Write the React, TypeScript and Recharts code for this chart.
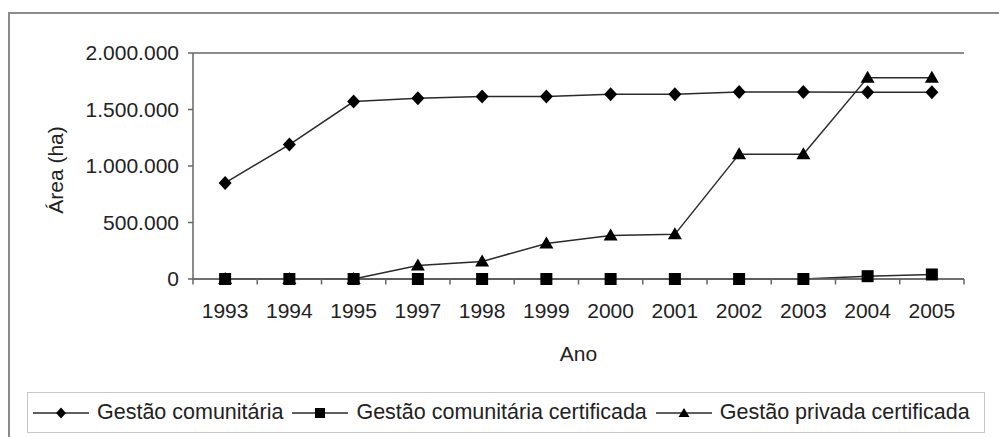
import React from 'react';
import { LineChart, Line, XAxis, YAxis, CartesianGrid, Legend } from 'recharts';

const years = ['1993', '1994', '1995', '1997', '1998', '1999', '2000', '2001', '2002', '2003', '2004', '2005'];
const gestaoComunitaria = [850000, 1190000, 1570000, 1600000, 1615000, 1615000, 1635000, 1635000, 1655000, 1655000, 1652000, 1652000];
const gestaoComunitariaCertificada = [0, 0, 0, 0, 0, 0, 0, 0, 0, 0, 25000, 40000];
const gestaoPrivadaCertificada = [0, 0, 0, 120000, 155000, 315000, 385000, 395000, 1105000, 1105000, 1782000, 1782000];
const yTicks = [0, 500000, 1000000, 1500000, 2000000];

const seriesNames = ['Gestão comunitária', 'Gestão comunitária certificada', 'Gestão privada certificada'];

const data = years.map((y, i) => ({
  ano: y,
  com: gestaoComunitaria[i],
  comCert: gestaoComunitariaCertificada[i],
  priv: gestaoPrivadaCertificada[i],
}));

const FONT = '"Liberation Sans", Arial, sans-serif';
const TEXT = '#222';
const LINE = '#2a2a2a';
const AXIS = '#666';

const CHART_W = 999;
const CHART_H = 437;
const MARGIN = { top: 53, right: 35, left: 0, bottom: 68 };
const YAXIS_W = 193;
const BAND = (CHART_W - MARGIN.left - MARGIN.right - YAXIS_W) / years.length;

const fmt = (v: number) => String(v).replace(/\B(?=(\d{3})+(?!\d))/g, '.');

const Diamond = (p: any) => {
  const { cx, cy } = p;
  if (cx == null || cy == null) return null;
  return <path key={p.key} d={`M${cx},${cy - 7} L${cx + 6.5},${cy} L${cx},${cy + 7} L${cx - 6.5},${cy} Z`} fill="#000" />;
};
const Square = (p: any) => {
  const { cx, cy } = p;
  if (cx == null || cy == null) return null;
  return <rect key={p.key} x={cx - 6} y={cy - 6} width={12} height={12} fill="#000" />;
};
const Triangle = (p: any) => {
  const { cx, cy } = p;
  if (cx == null || cy == null) return null;
  return <path key={p.key} d={`M${cx},${cy - 7} L${cx + 7},${cy + 5} L${cx - 7},${cy + 5} Z`} fill="#000" />;
};

const XTick = (props: any) => {
  const x = Number(props.x);
  const y = Number(props.y);
  const payload = props.payload;
  const half = BAND / 2;
  const first = payload && payload.value === years[0];
  return (
    <g>
      {first && <rect x={x - half - 0.75} y={y} width={1.5} height={5.5} fill={AXIS} />}
      <rect x={x + half - 0.75} y={y} width={1.5} height={5.5} fill={AXIS} />
      <text x={x} y={y + 24} dy="0.71em" textAnchor="middle" fontFamily={FONT} fontSize={21} fill={TEXT}>
        {payload.value}
      </text>
    </g>
  );
};

const YLabel = (props: any) => {
  const vb = props.viewBox || { x: 0, y: 53, width: 193, height: 226 };
  const x = Number(vb.x) + 63;
  const y = Number(vb.y) + Number(vb.height) / 2 + 4;
  return (
    <text x={x} y={y} transform={`rotate(-90 ${x} ${y})`} textAnchor="middle" fontFamily={FONT} fontSize={21} fill={TEXT}>
      Área (ha)
    </text>
  );
};

const XLabel = (props: any) => {
  const vb = props.viewBox || { x: 193, y: 279, width: 771, height: 90 };
  return (
    <text x={Number(vb.x) + Number(vb.width) / 2} y={Number(vb.y) + 82} textAnchor="middle" fontFamily={FONT} fontSize={21} fill={TEXT}>
      Ano
    </text>
  );
};

const LegendIcon = ({ kind }: { kind: number }) => (
  <svg width={56} height={20} style={{ display: 'block', flex: '0 0 auto' }}>
    <line x1={0} y1={10} x2={56} y2={10} stroke={LINE} strokeWidth={1.5} />
    {kind === 0 && <path d="M28,4.5 L33,10 L28,15.5 L23,10 Z" fill="#000" />}
    {kind === 1 && <rect x={23} y={5} width={10} height={10} fill="#000" />}
    {kind === 2 && <path d="M28,5 L33.5,14 L22.5,14 Z" fill="#000" />}
  </svg>
);

const renderLegend = () => (
  <div
    style={{
      boxSizing: 'border-box',
      width: 958,
      height: 41,
      border: '1px solid #c8c8c8',
      display: 'flex',
      alignItems: 'center',
      paddingLeft: 5,
      fontFamily: FONT,
      fontSize: 21.5,
      color: TEXT,
      whiteSpace: 'nowrap',
      background: '#fff',
    }}
  >
    {seriesNames.map((n, i) => (
      <div key={n} style={{ display: 'flex', alignItems: 'center', marginRight: 9 }}>
        <LegendIcon kind={i} />
        <span style={{ marginLeft: 8 }}>{n}</span>
      </div>
    ))}
  </div>
);

export default function App() {
  return (
    <div style={{ position: 'fixed', left: 0, top: 0, width: CHART_W, height: CHART_H, overflow: 'hidden', background: '#fff' }}>
      <div
        style={{
          position: 'absolute',
          left: 8,
          top: 12,
          width: 1010,
          height: 450,
          border: '2px solid #8c8c8c',
          boxSizing: 'border-box',
        }}
      />
      <div style={{ position: 'absolute', left: 0, top: 0 }}>
        <LineChart width={CHART_W} height={CHART_H} data={data} margin={MARGIN}>
          <CartesianGrid vertical={false} horizontal stroke={AXIS} strokeWidth={1.5} />
          <XAxis
            dataKey="ano"
            scale="band"
            interval={0}
            height={90}
            tickSize={0}
            tickMargin={0}
            tickLine={false}
            axisLine={{ stroke: AXIS, strokeWidth: 1.5 }}
            tick={(p: any) => <XTick {...p} />}
            label={<XLabel />}
          />
          <YAxis
            yAxisId="left"
            width={YAXIS_W}
            domain={[0, 2000000]}
            ticks={yTicks}
            tickFormatter={fmt}
            tickSize={5}
            tickMargin={9}
            tickLine={{ stroke: AXIS, strokeWidth: 1.5 }}
            axisLine={{ stroke: AXIS, strokeWidth: 1.5 }}
            tick={{ fontFamily: FONT, fontSize: 21, fill: TEXT }}
            label={<YLabel />}
          />
          <YAxis
            yAxisId="right"
            orientation="right"
            width={0}
            tick={false}
            tickLine={false}
            axisLine={{ stroke: AXIS, strokeWidth: 1.5 }}
          />
          <Legend
            layout="horizontal"
            verticalAlign="middle"
            align="center"
            content={renderLegend}
            wrapperStyle={{ position: 'absolute', left: 27, top: 392, width: 958, height: 41 }}
          />
          <Line
            yAxisId="left"
            dataKey="priv"
            name={seriesNames[2]}
            stroke={LINE}
            strokeWidth={1.5}
            dot={Triangle}
            activeDot={false}
            isAnimationActive={false}
          />
          <Line
            yAxisId="left"
            dataKey="comCert"
            name={seriesNames[1]}
            stroke={LINE}
            strokeWidth={1.5}
            dot={Square}
            activeDot={false}
            isAnimationActive={false}
          />
          <Line
            yAxisId="left"
            dataKey="com"
            name={seriesNames[0]}
            stroke={LINE}
            strokeWidth={1.5}
            dot={Diamond}
            activeDot={false}
            isAnimationActive={false}
          />
        </LineChart>
      </div>
    </div>
  );
}
